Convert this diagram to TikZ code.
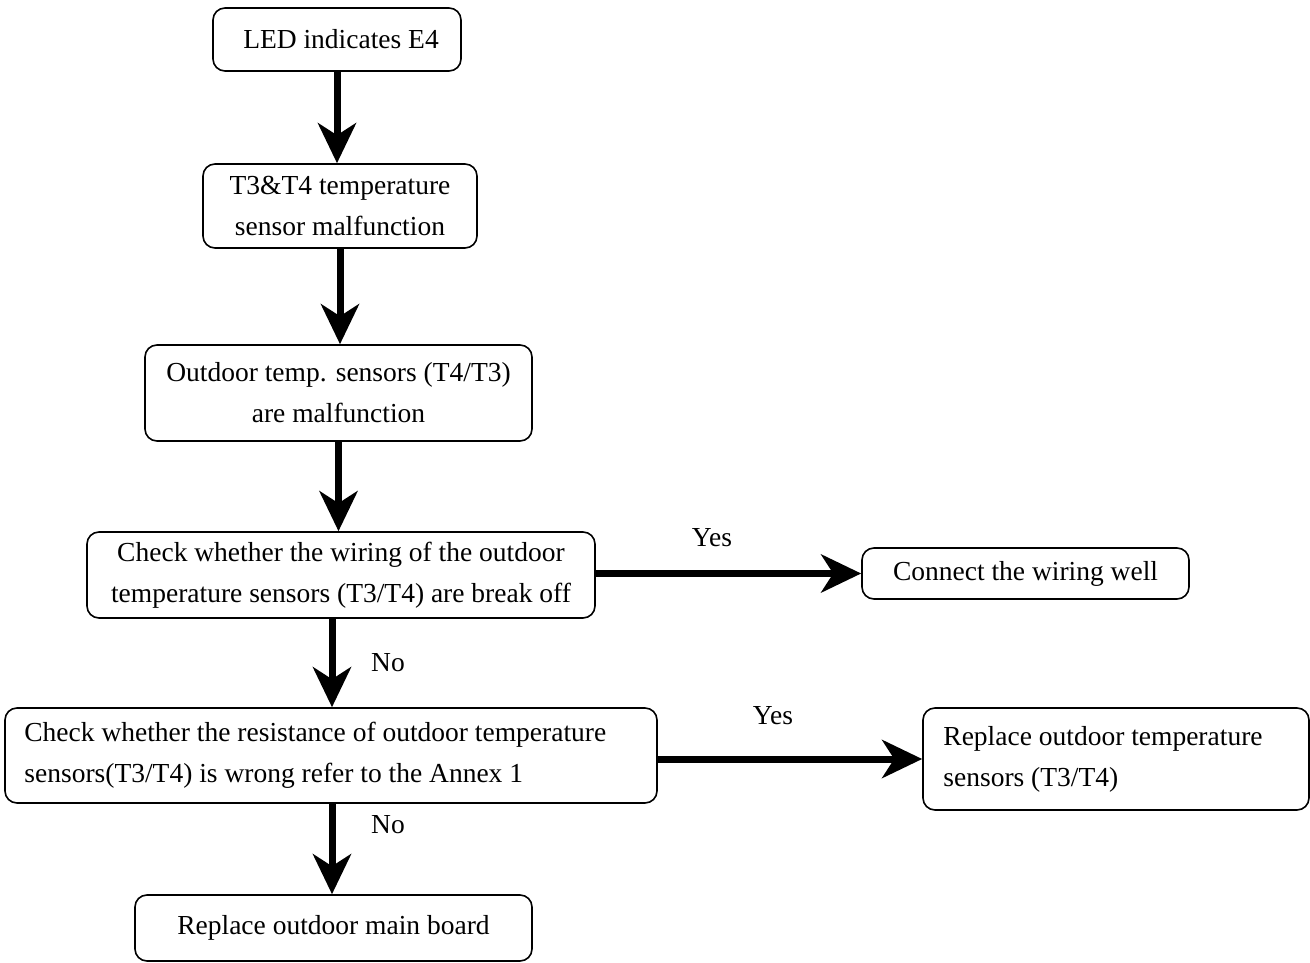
\documentclass[tikz,border=0pt]{standalone}
\usepackage{fontspec}
\setmainfont{Liberation Serif}
\usetikzlibrary{arrows.meta}
\begin{document}
\begin{tikzpicture}[x=1pt,y=-1pt,
  box/.style={draw,line width=1.6pt,rounded corners=12pt,inner sep=0pt,font=\fontsize{27.5}{41}\selectfont},
  txt/.style={inner sep=0pt,anchor=west,align=left,font=\fontsize{27.5}{41}\selectfont},
  arr/.style={line width=7pt,-{Stealth[length=40pt,width=38pt,inset=12pt]}},
  lbl/.style={font=\fontsize{27.5}{32}\selectfont,inner sep=0pt}]
\useasboundingbox (0,0) rectangle (1310,963);
\node[box,minimum width=248pt,minimum height=63pt] (b1) at (337,39.5) {\hspace{8pt}LED indicates E4};
\node[box,minimum width=274pt,minimum height=84pt,align=center] (b2) at (340,206) {T3\&T4 temperature\\sensor malfunction};
\node[box,minimum width=387pt,minimum height=96pt,align=center] (b3) at (338.5,393) {Outdoor temp. sensors (T4/T3)\\are malfunction};
\node[box,minimum width=508pt,minimum height=86pt,align=center] (b4) at (341,575) {Check whether the wiring of the outdoor\\temperature sensors (T3/T4) are break off};
\node[box,minimum width=327pt,minimum height=51pt] (b5) at (1025.5,573.5) {Connect the wiring well};
\node[box,minimum width=652pt,minimum height=95pt] (b6) at (331,755.5) {};
\node[txt] (t6) at ([xshift=20pt]b6.west) {Check whether the resistance of outdoor temperature\\sensors(T3/T4) is wrong refer to the Annex 1};
\node[box,minimum width=386pt,minimum height=102pt] (b7) at (1116,759) {};
\node[txt] (t7) at ([xshift=21pt]b7.west) {Replace outdoor temperature\\sensors (T3/T4)};
\node[box,minimum width=397pt,minimum height=66pt] (b8) at (333.5,928) {Replace outdoor main board};
\draw[arr] (b1.south) -- (b1.south |- b2.north);
\draw[arr] (b2.south) -- (b2.south |- b3.north);
\draw[arr] (b3.south) -- (b3.south |- b4.north);
\draw[arr] ([xshift=-9pt]b4.south) -- ([xshift=-9pt]b4.south |- b6.north);
\draw[arr] ([xshift=1pt]b6.south) -- ([xshift=1pt]b6.south |- b8.north);
\draw[arr] (b4.east |- b5.west) -- (b5.west);
\draw[arr] (b6.east |- b7.west) -- (b7.west);
\node[lbl] (y1) at (712,538) {Yes};
\node[lbl] (y2) at (773,716) {Yes};
\node[lbl] (n1) at (388,663) {No};
\node[lbl] (n2) at (388,825) {No};
\end{tikzpicture}
\end{document}
